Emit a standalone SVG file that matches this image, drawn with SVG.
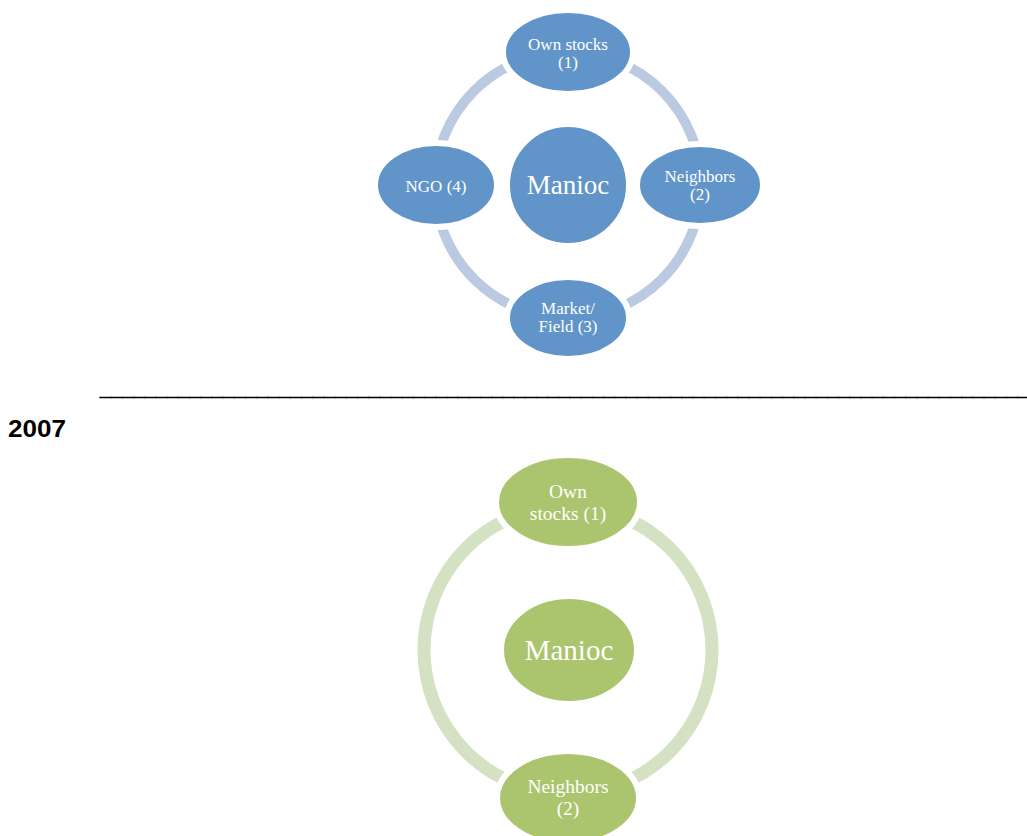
<svg xmlns="http://www.w3.org/2000/svg" width="1027" height="836" viewBox="0 0 1027 836">
  <style>
    .ring-blue { fill: none; stroke: #BBCAE0; stroke-width: 10; }
    .ring-green { fill: none; stroke: #D4E1C2; stroke-width: 13; }
    .blue { fill: #6195C9; stroke: #FFFFFF; stroke-width: 6; }
    .green { fill: #ABC56E; stroke: #FFFFFF; stroke-width: 6; }
    .lbl { font-family: "Liberation Serif", "DejaVu Serif", serif; fill: #FFFFFF; text-anchor: middle; }
    .s16 { font-size: 17px; }
    .s18 { font-size: 19.5px; }
    .big { font-size: 27px; }
    .big2 { font-size: 29px; }
    .head { font-family: "Liberation Sans", Arial, sans-serif; font-weight: bold; fill: #000000; }
    .rule { stroke: #000000; stroke-width: 0.9; }
  </style>

  <!-- connectors: ring behind each cycle -->
  <g id="connectors">
    <circle class="ring-blue" cx="568" cy="185" r="133"/>
    <circle class="ring-green" cx="568" cy="650" r="144"/>
  </g>

  <!-- upper cycle -->
  <g id="top-center"><circle class="blue" cx="568" cy="185" r="61"/><text class="lbl big" x="568" y="194">Manioc</text></g>
  <g id="top-own-stocks"><ellipse class="blue" cx="568" cy="52" rx="65" ry="42"/><text class="lbl s16" x="568" y="50">Own stocks</text><text class="lbl s16" x="568" y="68">(1)</text></g>
  <g id="top-neighbors"><ellipse class="blue" cx="700" cy="185" rx="63" ry="41"/><text class="lbl s16" x="700" y="182">Neighbors</text><text class="lbl s16" x="700" y="200">(2)</text></g>
  <g id="top-market"><ellipse class="blue" cx="568" cy="318" rx="61" ry="41"/><text class="lbl s16" x="568" y="314">Market/</text><text class="lbl s16" x="568" y="332">Field (3)</text></g>
  <g id="top-ngo"><ellipse class="blue" cx="436" cy="185" rx="61" ry="42"/><text class="lbl s16" x="436" y="192">NGO (4)</text></g>

  <!-- separator and year heading -->
  <g id="separator">
    <text class="head rule" x="100" y="396" font-size="19" textLength="940" lengthAdjust="spacingAndGlyphs">____________________________________________________________________________________</text>
    <text class="head" x="8" y="437" font-size="24" textLength="58" lengthAdjust="spacingAndGlyphs">2007</text>
  </g>

  <!-- lower cycle -->
  <g id="bottom-center"><ellipse class="green" cx="569" cy="650" rx="68" ry="54"/><text class="lbl big2" x="569" y="660">Manioc</text></g>
  <g id="bottom-own-stocks"><ellipse class="green" cx="568" cy="502" rx="72" ry="47"/><text class="lbl s18" x="568" y="498">Own</text><text class="lbl s18" x="568" y="520">stocks (1)</text></g>
  <g id="bottom-neighbors"><ellipse class="green" cx="568" cy="798" rx="71" ry="47"/><text class="lbl s18" x="568" y="793">Neighbors</text><text class="lbl s18" x="568" y="815">(2)</text></g>
</svg>
